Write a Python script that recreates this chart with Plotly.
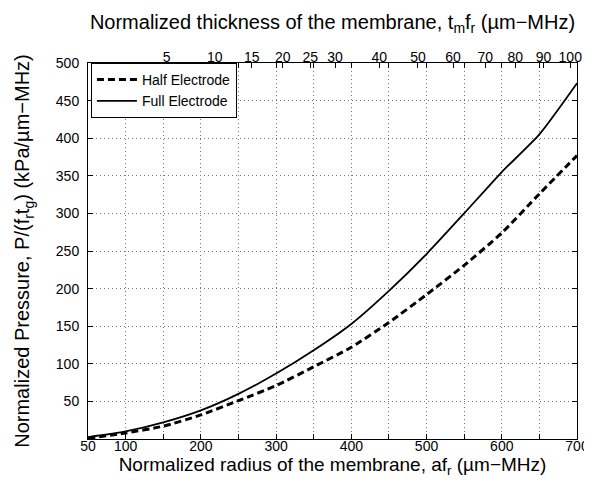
import numpy as np
import plotly.graph_objects as go

# Data
radius = [50, 100, 150, 200, 250, 300, 350, 400, 450, 500, 550, 600, 650, 700]
full_electrode = [2.5, 10, 22, 38, 60, 87, 118, 153, 197, 246, 300, 355, 405, 473]
half_electrode = [0.8, 8, 17, 32, 51, 71, 96, 122, 155, 192, 231, 274, 326, 377]

x_ticks = [50, 100, 200, 300, 400, 500, 600, 700]
x_grid = [100, 150, 200, 250, 300, 350, 400, 450, 500, 550, 600, 650]
y_ticks = [50, 100, 150, 200, 250, 300, 350, 400, 450, 500]
thickness_ticks = [5, 10, 15, 20, 25, 30, 40, 50, 60, 70, 80, 90, 100]
# radius = k * sqrt(thickness) relation for the top axis scale
k_scale = 69.1

FONT = "Liberation Sans, Arial, Helvetica, sans-serif"

fig = go.Figure()
fig.add_trace(go.Scatter(
    x=radius, y=half_electrode, mode="lines", name="Half Electrode",
    line=dict(color="black", width=3, dash="7px,4px", shape="spline", smoothing=0.6)))
fig.add_trace(go.Scatter(
    x=radius, y=full_electrode, mode="lines", name="Full Electrode",
    line=dict(color="black", width=1.8, shape="spline", smoothing=0.6)))
# invisible trace to anchor top axis
fig.add_trace(go.Scatter(
    x=[50, 700], y=[0, 0], xaxis="x2", mode="lines",
    line=dict(width=0), showlegend=False, hoverinfo="skip"))

top_pos = [k_scale * np.sqrt(t) for t in thickness_ticks]

fig.update_layout(
    width=592, height=485,
    paper_bgcolor="white", plot_bgcolor="white",
    margin=dict(l=80, r=11, t=55, b=54),
    font=dict(family=FONT, size=14, color="black"),
    showlegend=True,
    legend=dict(
        x=0.006, y=1.0, xanchor="left", yanchor="top",
        bordercolor="black", borderwidth=1, bgcolor="white",
        font=dict(size=14, family=FONT), itemwidth=40,
        tracegroupgap=0,
    ),
    xaxis=dict(
        range=[50, 700], tickvals=x_grid + [50, 700],
        ticktext=[str(v) if v in x_ticks else "" for v in x_grid] + ["50", "700"],
        showgrid=True, gridcolor="#777", griddash="1px,3px", gridwidth=1,
        ticks="inside", ticklen=5, tickcolor="black",
        showline=True, linecolor="black", linewidth=1, mirror="ticks",
        zeroline=False, ticklabelstandoff=-6,
        title=dict(text="Normalized radius of the membrane, af<sub>r</sub> (µm−MHz)",
                   font=dict(size=19), standoff=0),
        tickfont=dict(size=14),
    ),
    xaxis2=dict(
        range=[50, 700], overlaying="x", side="top", anchor="y",
        tickvals=top_pos, ticktext=[str(t) for t in thickness_ticks],
        ticks="inside", ticklen=5, tickcolor="black",
        showgrid=False, zeroline=False, showline=False,
        ticklabelstandoff=-3,
        title=dict(text="Normalized thickness of the membrane, t<sub>m</sub>f<sub>r</sub> (µm−MHz)",
                   font=dict(size=20), standoff=14),
        tickfont=dict(size=14),
    ),
    yaxis=dict(
        range=[0, 500], tickvals=y_ticks,
        showgrid=True, gridcolor="#777", griddash="1px,3px", gridwidth=1,
        ticks="inside", ticklen=5, tickcolor="black",
        showline=True, linecolor="black", linewidth=1, mirror="ticks",
        zeroline=False, ticklabelstandoff=5,
        title=dict(text="Normalized Pressure, P/(f<sub>r</sub>t<sub>g</sub>) (kPa/µm−MHz)",
                   font=dict(size=20), standoff=20),
        tickfont=dict(size=14),
    ),
)

fig.write_html("out.html")
